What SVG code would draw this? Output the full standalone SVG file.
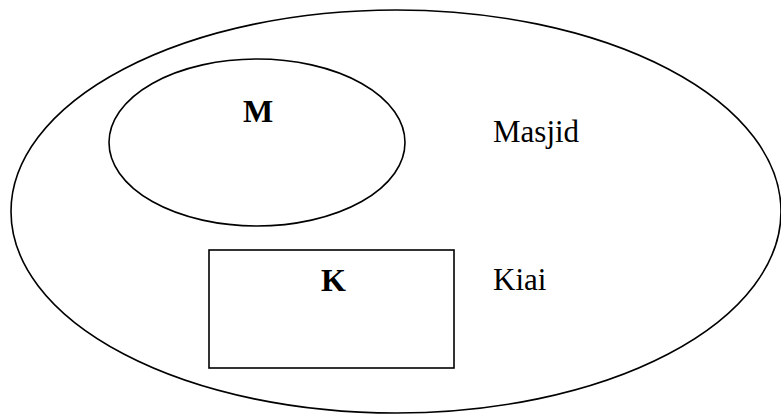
<svg xmlns="http://www.w3.org/2000/svg" width="781" height="414" viewBox="0 0 781 414">
<style>
.s{fill:none;stroke:#000;stroke-width:1.6}
.t{font-family:"Liberation Serif",serif;fill:#000}
.b{font-weight:bold;font-size:32px}
.r{font-size:31px}
</style>
<rect width="781" height="414" fill="#fff"/>
<g id="masjid">
<ellipse class="s" cx="396" cy="211.5" rx="385" ry="201.5"/>
<text class="t r" x="493" y="142">Masjid</text>
</g>
<g id="M">
<ellipse class="s" cx="257" cy="142.5" rx="148" ry="83.5"/>
<text class="t b" x="243" y="122">M</text>
</g>
<g id="K">
<rect class="s" x="209" y="250" width="245" height="118"/>
<text class="t b" x="321" y="291">K</text>
</g>
<g id="kiai">
<text class="t r" x="493" y="290">Kiai</text>
</g>
<g id="connectors"/>
</svg>
